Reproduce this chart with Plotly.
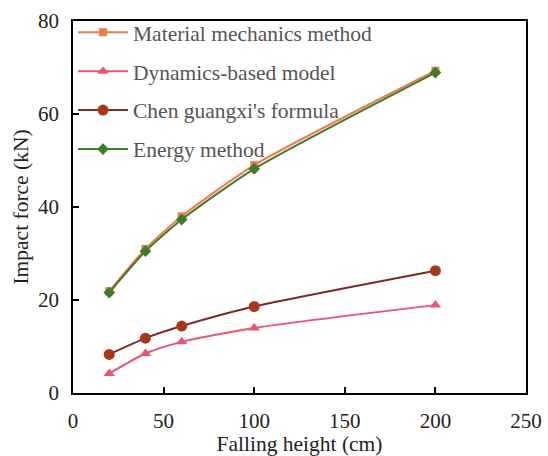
import plotly.graph_objects as go

heights = [20, 40, 60, 100, 200]
material = [21.9, 31.0, 38.0, 49.0, 69.3]
dynamics = [4.2, 8.5, 11.0, 14.0, 18.9]
chen = [8.3, 11.8, 14.4, 18.6, 26.3]
energy = [21.6, 30.5, 37.3, 48.2, 68.9]

series = [
    ("Material mechanics method", material, "#F07B4B", "#F07B4B", "square", 8),
    ("Dynamics-based model", dynamics, "#E85672", "#E85672", "triangle-up", 10),
    ("Chen guangxi's formula", chen, "#7A2A2C", "#A8381A", "circle", 11),
    ("Energy method", energy, "#3F7B2B", "#3F7B2B", "diamond", 9),
]

SERIF = "Times New Roman, Liberation Serif, DejaVu Serif, serif"

fig = go.Figure()
for i, (name, vals, lc, mc, sym, ms) in enumerate(series):
    fig.add_trace(go.Scatter(
        x=heights, y=vals, name=name, mode="lines+markers",
        line=dict(color=lc, width=2, shape="spline", smoothing=0.6),
        marker=dict(color=mc, symbol=sym, size=ms),
        legendgroup=f"g{i}",
    ))

axis_common = dict(
    showgrid=False, zeroline=False, showline=True, linecolor="black", linewidth=1.5,
    mirror=True, ticks="inside", ticklen=6, tickcolor="black", tickwidth=1.5,
    tickfont=dict(family=SERIF, size=21, color="#222"), ticklabelstandoff=8,
    automargin=False,
)

fig.update_layout(
    width=548, height=456,
    margin=dict(l=73, r=22, t=21, b=63),
    paper_bgcolor="white", plot_bgcolor="white",
    font=dict(family=SERIF, size=21, color="#333"),
    xaxis=dict(range=[0, 250], dtick=50, title=dict(text="Falling height (cm)", standoff=2,
               font=dict(family=SERIF, size=21.5, color="#222")), **axis_common),
    yaxis=dict(range=[0, 80], dtick=20, title=dict(text="Impact force (kN)", standoff=4,
               font=dict(family=SERIF, size=21.5, color="#222")), **axis_common),
    legend=dict(x=0.0, y=1.025, xanchor="left", yanchor="top", bgcolor="rgba(0,0,0,0)",
                traceorder="grouped", tracegroupgap=8, itemwidth=50,
                font=dict(family=SERIF, size=21.5, color="#555")),
    showlegend=True,
)

fig.write_html("out.html")
